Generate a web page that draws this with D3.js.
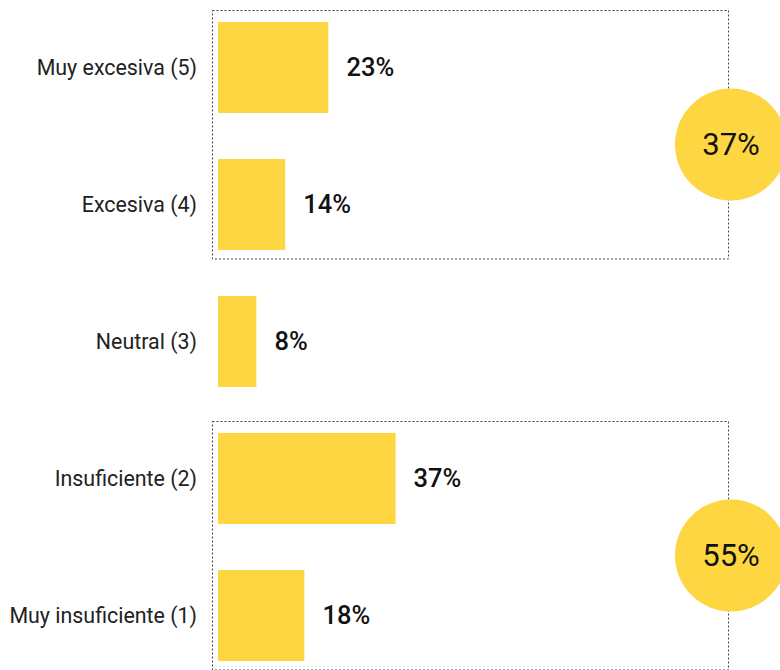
<!DOCTYPE html>
<html lang="es">
<head>
	<meta charset="UTF-8">
	<title>valoración</title>
	<style>
		body { margin: 0; background: #fff; }
		text { font-family: Roboto, "Noto Sans", sans-serif; }
	</style>
</head>
<body>
	<div id="viz-wrapper"></div>

	<script src="https://cdn.jsdelivr.net/npm/d3@7"></script>
	<script type="text/javascript">
    // data
    var categories = ["Muy excesiva (5)", "Excesiva (4)", "Neutral (3)", "Insuficiente (2)", "Muy insuficiente (1)"];
    var values = [23, 14, 8, 37, 18];
    // grouped totals (first + last two categories)
    var groups = [
        { from: "Muy excesiva (5)", to: "Excesiva (4)", total: 37 },
        { from: "Insuficiente (2)", to: "Muy insuficiente (1)", total: 55 }
    ];

    var width = 780,
        height = 670;

    var yellow = "#fed641";

    var svg = d3.select("#viz-wrapper")
                .append("svg")
                .attr("width", width)
                .attr("height", height);

    var y = d3.scaleBand()
              .domain(categories)
              .range([22, 661])
              .paddingInner(0.336)
              .paddingOuter(0);

    var x = d3.scaleLinear()
              .domain([0, 100])
              .range([218, 698]);

    // dashed boxes around the groups
    svg.selectAll("rect.group")
       .data(groups)
       .enter()
       .append("rect")
       .attr("class", "group")
       .attr("x", x(0) - 5.5)
       .attr("y", function(d) { return y(d.from) - 11.5; })
       .attr("width", 516)
       .attr("height", function(d) { return y(d.to) + y.bandwidth() - y(d.from) + 20.5; })
       .style("fill", "none")
       .style("stroke", "#444")
       .style("stroke-width", 1)
       .style("stroke-dasharray", "2,2");

    // bars
    svg.selectAll("rect.bar")
       .data(values)
       .enter()
       .append("rect")
       .attr("class", "bar")
       .attr("x", x(0))
       .attr("y", function(d, i) { return y(categories[i]); })
       .attr("width", function(d) { return x(d) - x(0); })
       .attr("height", y.bandwidth())
       .style("fill", yellow);

    // value labels
    svg.selectAll("text.value")
       .data(values)
       .enter()
       .append("text")
       .attr("class", "value")
       .attr("x", function(d) { return x(d) + 18; })
       .attr("y", function(d, i) { return y(categories[i]) + y.bandwidth() / 2; })
       .attr("dy", "0.35em")
       .style("font-size", "25.5px")
       .style("font-weight", 500)
       .style("fill", "#111")
       .text(function(d) { return d + "%"; });

    // category labels
    svg.selectAll("text.cat")
       .data(categories)
       .enter()
       .append("text")
       .attr("class", "cat")
       .attr("x", 197)
       .attr("y", function(d) { return y(d) + y.bandwidth() / 2; })
       .attr("dy", "0.35em")
       .attr("text-anchor", "end")
       .style("font-size", "21.4px")
       .style("fill", "#222")
       .text(function(d) { return d; });

    // circles with group totals
    var bubbles = svg.selectAll("g.bubble")
       .data(groups)
       .enter()
       .append("g")
       .attr("class", "bubble")
       .attr("transform", function(d) {
           var cy = (y(d.from) + y(d.to) + y.bandwidth()) / 2 + 8.5;
           return "translate(731," + cy + ")";
       });

    bubbles.append("circle")
       .attr("r", 56)
       .style("fill", yellow);

    bubbles.append("text")
       .attr("text-anchor", "middle")
       .attr("dy", "0.35em")
       .style("font-size", "31px")
       .style("fill", "#111")
       .text(function(d) { return d.total + "%"; });
 	</script>
</body>
</html>
